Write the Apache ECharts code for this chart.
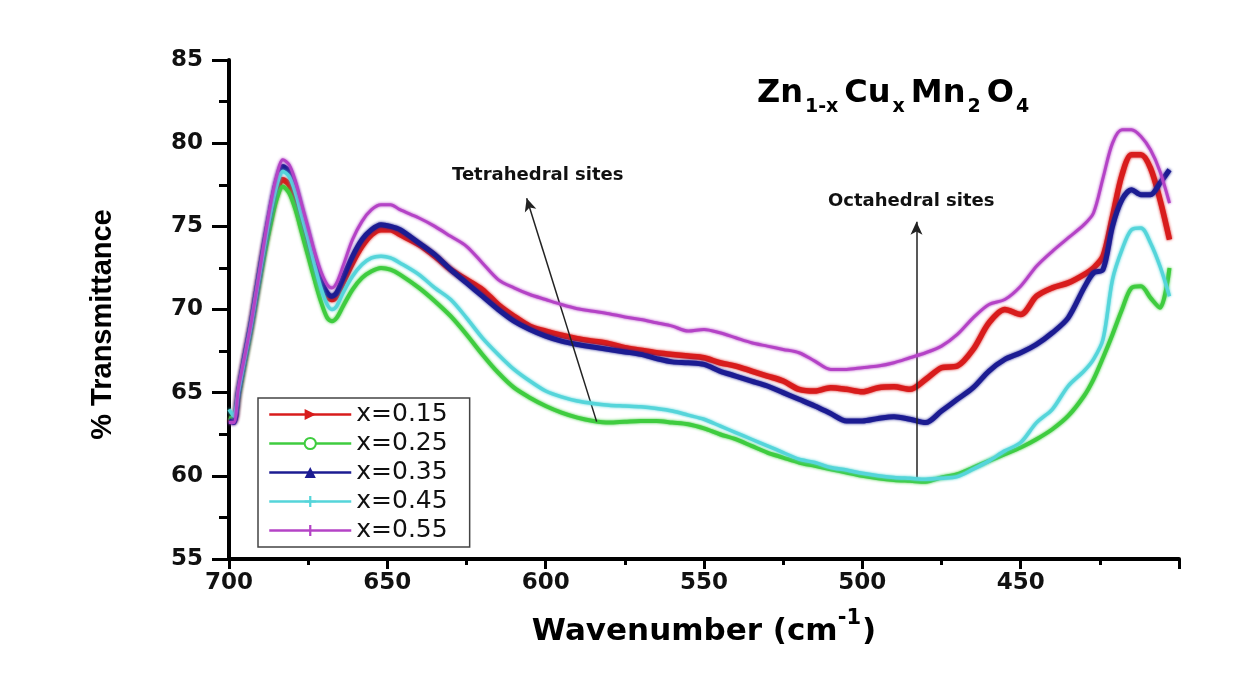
<!DOCTYPE html>
<html>
<head>
<meta charset="utf-8">
<script src="https://cdn.jsdelivr.net/npm/echarts@6/dist/echarts.min.js"></script>
<style>
  html, body { margin: 0; padding: 0; background: #fff; }
  #chart { width: 1243px; height: 696px; }
</style>
</head>
<body>
<div id="chart"></div>
<script>
// wavenumber (cm-1), shared by all samples
const wavenumber = [700, 698.5, 697, 695, 693, 691, 689, 687, 685, 683, 681, 679, 677, 675, 673, 671, 669, 667.5, 666, 664,
  661, 658, 655, 652, 649, 646, 640, 635, 630, 625, 620, 615, 610, 605, 600,
  595, 590, 585, 580, 575, 570, 565, 560, 555, 550,
  545, 540, 535, 530, 525, 520, 515, 510, 505, 500,
  495, 490, 485, 480, 475, 470, 465, 460, 455, 450,
  445, 440, 435, 430, 427, 424, 421, 418, 415, 412, 409, 406, 403];

const seriesNames = ['x=0.15', 'x=0.25', 'x=0.35', 'x=0.45', 'x=0.55'];

const t015 = [63.4, 63.3, 65.0, 67.1, 69.1, 71.4, 73.6, 75.4, 77.0, 77.8, 77.5, 76.5, 75.2, 73.8, 72.5, 71.4, 70.8, 70.6, 70.8, 71.6,
  72.8, 73.8, 74.5, 74.8, 74.8, 74.5, 73.9, 73.2, 72.4, 71.8, 71.2, 70.3, 69.6, 69.0, 68.7,
  68.45, 68.25, 68.1, 67.95, 67.7, 67.55, 67.4, 67.3, 67.2, 67.1,
  66.8, 66.6, 66.3, 66.0, 65.7, 65.2, 65.1, 65.3, 65.2, 65.05,
  65.3, 65.35, 65.2, 65.8, 66.5, 66.6, 67.6, 69.2, 70.0, 69.7,
  70.8, 71.3, 71.6, 72.1, 72.5, 73.2, 75.6, 78.1, 79.3, 79.3, 78.5, 76.6, 74.2];

const t025 = [63.5, 63.4, 64.8, 66.8, 68.8, 71.0, 73.1, 75.0, 76.6, 77.4, 77.0, 76.0, 74.6, 73.2, 71.8, 70.5, 69.5, 69.3, 69.5, 70.2,
  71.2, 71.9, 72.3, 72.5, 72.4, 72.1, 71.3, 70.5, 69.6, 68.5, 67.3, 66.2, 65.3, 64.7, 64.2,
  63.8, 63.5, 63.3, 63.2, 63.25, 63.3, 63.3, 63.2, 63.1, 62.85,
  62.5, 62.2, 61.8, 61.4, 61.1, 60.8, 60.6, 60.4, 60.2, 60.0,
  59.85, 59.75, 59.7, 59.65, 59.9, 60.1, 60.5, 60.9, 61.3, 61.7,
  62.2, 62.8, 63.6, 64.8, 65.8, 67.1, 68.5, 70.0, 71.3, 71.4, 70.7, 70.1, 72.5];

const t035 = [63.3, 63.2, 65.1, 67.2, 69.2, 71.5, 73.8, 75.9, 77.7, 78.6, 78.3, 77.3, 75.9, 74.5, 73.0, 71.8, 71.0, 70.8, 71.0, 71.9,
  73.2, 74.2, 74.8, 75.1, 75.0, 74.8, 74.0, 73.3, 72.4, 71.6, 70.8, 70.0, 69.3, 68.8, 68.4,
  68.1, 67.9, 67.75, 67.6, 67.45, 67.3, 67.05, 66.85, 66.8, 66.7,
  66.3, 66.0, 65.7, 65.4, 65.0, 64.6, 64.2, 63.75, 63.3, 63.3,
  63.45, 63.55, 63.4, 63.2, 63.9, 64.6, 65.3, 66.3, 67.0, 67.4,
  67.9, 68.6, 69.5, 71.3, 72.2, 72.4, 75.0, 76.6, 77.2, 76.9, 76.9, 77.6, 78.4];

const t045 = [64.0, 63.6, 65.1, 67.1, 69.1, 71.4, 73.6, 75.7, 77.4, 78.3, 78.0, 77.0, 75.6, 74.2, 72.7, 71.3, 70.3, 70.0, 70.2, 71.0,
  72.0, 72.7, 73.1, 73.2, 73.1, 72.8, 72.1, 71.3, 70.6, 69.5, 68.3, 67.3, 66.4, 65.7, 65.1,
  64.75, 64.5, 64.35, 64.25, 64.2, 64.15, 64.05, 63.9, 63.65, 63.4,
  63.0, 62.6, 62.2, 61.8, 61.4, 61.0, 60.8, 60.5, 60.35, 60.15,
  60.0, 59.9, 59.85, 59.8, 59.85, 59.95, 60.4, 60.9, 61.5, 62.0,
  63.2, 64.0, 65.4, 66.3, 67.0, 68.2, 71.8, 73.6, 74.8, 74.9, 74.0, 72.6, 70.8];

const t055 = [63.2, 63.2, 65.3, 67.2, 69.2, 71.5, 73.9, 76.2, 78.0, 79.0, 78.7, 77.7, 76.3, 74.9, 73.5, 72.3, 71.5, 71.3, 71.6, 72.6,
  74.2, 75.3, 76.0, 76.3, 76.3, 76.0, 75.5, 75.0, 74.4, 73.8, 72.8, 71.8, 71.3, 70.9, 70.6,
  70.3, 70.05, 69.9, 69.75, 69.55, 69.4, 69.2, 69.0, 68.7, 68.8,
  68.6, 68.3, 68.0, 67.8, 67.6, 67.4, 66.9, 66.4, 66.4, 66.5,
  66.6, 66.8, 67.1, 67.4, 67.8, 68.5, 69.5, 70.3, 70.6, 71.4,
  72.6, 73.5, 74.3, 75.1, 75.8, 77.9, 80.0, 80.8, 80.8, 80.4, 79.6, 78.3, 76.4];

// arrow annotations [wavenumber, %T] tail -> head
const tetraArrow = [[583.9, 63.26], [606.0, 76.69]];
const octaArrow = [[482.9, 59.76], [482.9, 75.28]];

const colors = ['#d81c1c', '#3fcc3f', '#1c1c92', '#55d5da', '#b443c6'];
const widths = [5.5, 4, 5, 3.5, 3];
// plus and thin vertical bar are drawn inside a square box so the legend keeps them slim
const symbols = ['triangle', 'emptyCircle', 'triangle',
  'path://M4,0h2v4h4v2h-4v4h-2v-4h-4v-2h4z',
  'path://M0,5L10,5L0,5Z M4,0h2v10h-2z'];
const symbolSizes = [9, 7, 8, 9, 10];
const symbolRotates = [-90, 0, 0, 0, 0];

const allValues = [t015, t025, t035, t045, t055];

const chart = echarts.init(document.getElementById('chart'));

const series = allValues.map((vals, i) => ({
  name: seriesNames[i],
  type: 'line',
  data: wavenumber.map((w, k) => [w, vals[k]]),
  smooth: 0.3,
  showSymbol: false,
  symbol: symbols[i],
  symbolSize: symbolSizes[i],
  symbolRotate: symbolRotates[i],
  color: colors[i],
  lineStyle: {color: colors[i], width: widths[i], shadowColor: colors[i], shadowBlur: 3},
  emphasis: {disabled: true},
  z: 2 + i
}));

series[0].markLine = {
  silent: true,
  symbol: ['none', 'arrow'],
  symbolSize: [9, 13],
  lineStyle: {color: '#222', width: 1.5, type: 'solid', shadowBlur: 0},
  label: {show: false},
  emphasis: {disabled: true},
  data: [
    [{coord: tetraArrow[0]}, {coord: tetraArrow[1]}],
    [{coord: octaArrow[0]}, {coord: octaArrow[1]}]
  ]
};

const bold = 'DejaVu Sans';

chart.setOption({
  backgroundColor: '#fff',
  animation: false,
  title: {
    text: '{m|Zn}{s|1-x}{m|Cu}{s|x}{m|Mn}{s|2}{m|O}{s|4}',
    left: 750,
    top: 76,
    textStyle: {
      rich: {
        m: {fontFamily: bold, fontWeight: 'bold', fontSize: 32, lineHeight: 36, padding: [0, 2, 7, 2], color: '#000', verticalAlign: 'bottom'},
        s: {fontFamily: bold, fontWeight: 'bold', fontSize: 19, lineHeight: 19, padding: [0, 4, 0, 0], color: '#000', verticalAlign: 'bottom'}
      }
    }
  },
  legend: {
    orient: 'vertical',
    left: 258,
    top: 398,
    itemWidth: 82,
    itemHeight: 14,
    itemGap: 4,
    padding: [4, 22, 4, 10],
    borderColor: '#444',
    borderWidth: 1.5,
    lineStyle: {width: 2.5},
    textStyle: {fontFamily: bold, fontSize: 25, lineHeight: 24, color: '#111'},
    data: seriesNames
  },
  grid: {left: 229, right: 64, top: 60, bottom: 137},
  xAxis: {
    type: 'value',
    inverse: true,
    min: 400,
    max: 700,
    interval: 50,
    name: '{m|Wavenumber (cm}{p|-1}{m|)}',
    nameLocation: 'middle',
    nameGap: 52,
    nameTextStyle: {
      rich: {
        m: {fontFamily: bold, fontWeight: 'bold', fontSize: 31, lineHeight: 36, color: '#000', verticalAlign: 'bottom'},
        p: {fontFamily: bold, fontWeight: 'bold', fontSize: 21, lineHeight: 21, padding: [0, 1, 18, 0], color: '#000', verticalAlign: 'bottom'}
      }
    },
    axisLine: {show: true, onZero: false, lineStyle: {color: '#000', width: 4}},
    axisTick: {show: true, length: 10, lineStyle: {color: '#000', width: 3}},
    minorTick: {show: true, splitNumber: 2, length: 6, lineStyle: {color: '#000', width: 3}},
    splitLine: {show: false},
    minorSplitLine: {show: false},
    axisLabel: {
      margin: 13,
      fontFamily: bold,
      fontWeight: 'bold',
      fontSize: 23,
      color: '#111',
      formatter: v => (v === 400 ? '' : String(v))
    }
  },
  yAxis: {
    type: 'value',
    min: 55,
    max: 85,
    interval: 5,
    name: '% Transmittance',
    nameLocation: 'middle',
    nameGap: 112,
    nameTextStyle: {fontFamily: 'Liberation Sans', fontWeight: 'bold', fontSize: 29, color: '#000', padding: [0, 30, 0, 0]},
    axisLine: {show: true, onZero: false, lineStyle: {color: '#000', width: 4}},
    axisTick: {show: true, length: 17, lineStyle: {color: '#000', width: 3}},
    minorTick: {show: true, splitNumber: 2, length: 10, lineStyle: {color: '#000', width: 3}},
    splitLine: {show: false},
    minorSplitLine: {show: false},
    axisLabel: {margin: 26, fontFamily: bold, fontWeight: 'bold', fontSize: 23, color: '#111'}
  },
  graphic: [
    {type: 'text', left: 452, top: 166, style: {text: 'Tetrahedral sites', font: 'bold 18px "DejaVu Sans"', fill: '#111'}},
    {type: 'text', left: 828, top: 192, style: {text: 'Octahedral sites', font: 'bold 18px "DejaVu Sans"', fill: '#111'}}
  ],
  series: series
});
</script>
</body>
</html>
